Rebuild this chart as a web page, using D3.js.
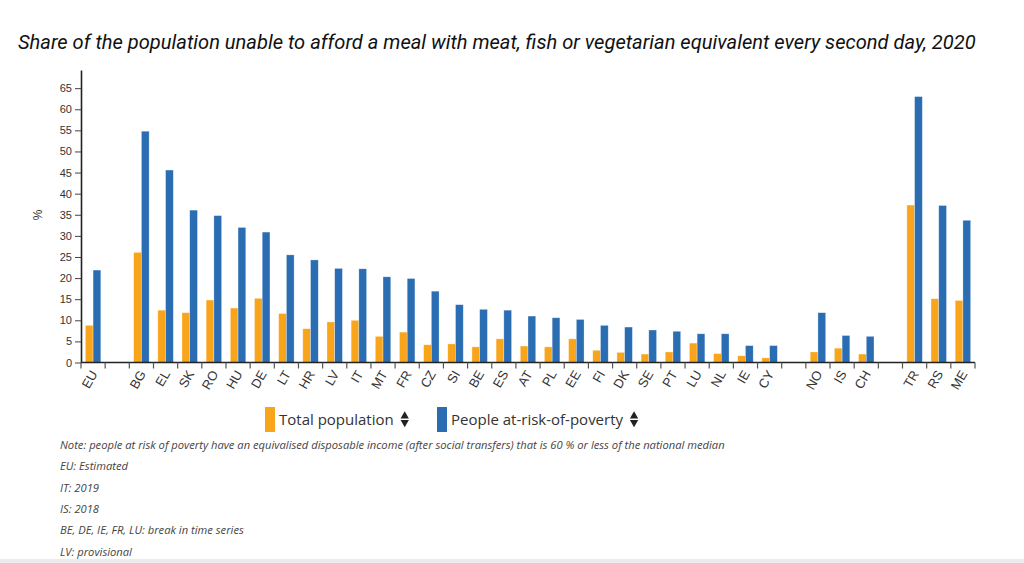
<!DOCTYPE html>
<html>
<head>
<meta charset="utf-8">
<script src="https://cdn.jsdelivr.net/npm/d3@7"></script>
<style>
  body { margin: 0; background: #fff; }
  svg { display: block; }
</style>
</head>
<body>
<script>
// categories, "" slots are the gaps between country groups
var countries = ["EU", "", "BG", "EL", "SK", "RO", "HU", "DE", "LT", "HR", "LV", "IT", "MT", "FR",
    "CZ", "SI", "BE", "ES", "AT", "PL", "EE", "FI", "DK", "SE", "PT", "LU", "NL", "IE", "CY",
    "", "NO", "IS", "CH", "", "TR", "RS", "ME"];

var totalPop = [8.8, null, 26.1, 12.4, 11.8, 14.8, 12.9, 15.2, 11.6, 8.0, 9.6, 10.0, 6.2, 7.2,
    4.2, 4.4, 3.7, 5.6, 3.9, 3.7, 5.6, 2.9, 2.4, 2.0, 2.5, 4.6, 2.1, 1.6, 1.1,
    null, 2.5, 3.4, 2.0, null, 37.3, 15.1, 14.7];

var atRisk = [21.9, null, 54.8, 45.6, 36.1, 34.8, 32.0, 30.9, 25.5, 24.3, 22.3, 22.2, 20.3, 19.9,
    16.9, 13.7, 12.6, 12.4, 11.0, 10.6, 10.2, 8.8, 8.4, 7.7, 7.4, 6.8, 6.8, 4.0, 4.0,
    null, 11.8, 6.4, 6.2, null, 63.0, 37.2, 33.7];

var yTicks = [0, 5, 10, 15, 20, 25, 30, 35, 40, 45, 50, 55, 60, 65];

var seriesNames = ["Total population", "People at-risk-of-poverty"];
var seriesColors = ["#f9a51c", "#2a6db3"];

var notes = [
    "Note: people at risk of poverty have an equivalised disposable income (after social transfers) that is 60 % or less of the national median",
    "EU: Estimated",
    "IT: 2019",
    "IS: 2018",
    "BE, DE, IE, FR, LU: break in time series",
    "LV: provisional"
];

var width = 1024, height = 563;

var svg = d3.select("body")
    .append("svg")
    .attr("width", width)
    .attr("height", height);

// title
svg.append("text")
    .attr("x", 18)
    .attr("y", 49)
    .style("font-family", "Roboto, sans-serif")
    .style("font-style", "italic")
    .style("font-size", "20.1px")
    .style("fill", "#111")
    .text("Share of the population unable to afford a meal with meat, fish or vegetarian equivalent every second day, 2020");

var keys = countries.map(function (c, i) { return c === "" ? "gap" + i : c; });

var x = d3.scaleBand()
    .domain(keys)
    .range([81, 975])
    .padding(0);

var y = d3.scaleLinear()
    .domain([0, d3.max(atRisk) * 1.1])
    .range([362.5, 70]);

var data = keys.map(function (k, i) {
    return { key: k, label: countries[i], values: [totalPop[i], atRisk[i]] };
});

var barW = x.bandwidth() * 0.32;

var groups = svg.selectAll(".grp")
    .data(data)
    .enter()
    .append("g")
    .attr("class", "grp")
    .attr("transform", function (d) {
        return "translate(" + (x(d.key) + x.bandwidth() / 2 - barW) + ",0)";
    });

groups.selectAll("rect")
    .data(function (d) {
        return d.values.map(function (v, j) { return { v: v, j: j }; })
            .filter(function (e) { return e.v != null; });
    })
    .enter()
    .append("rect")
    .attr("x", function (e) { return e.j * barW; })
    .attr("y", function (e) { return y(e.v); })
    .attr("width", barW)
    .attr("height", function (e) { return y(0) - y(e.v); })
    .attr("fill", function (e) { return seriesColors[e.j]; })
    .attr("stroke", "rgba(255,255,255,0.5)")
    .attr("stroke-width", 0.6);

// y axis
var yAxis = svg.append("g")
    .attr("transform", "translate(81,0)")
    .call(d3.axisLeft(y).tickValues(yTicks).tickSize(6).tickSizeOuter(0));
yAxis.select(".domain").attr("stroke", "#222").attr("stroke-width", 1.6);
yAxis.selectAll(".tick line").attr("stroke", "#444");
yAxis.selectAll(".tick text")
    .style("font-family", "'Liberation Sans', Arial, sans-serif")
    .style("font-size", "11px")
    .style("fill", "#333");

svg.append("text")
    .attr("transform", "translate(42,215) rotate(-90)")
    .attr("text-anchor", "middle")
    .style("font-family", "'Liberation Sans', Arial, sans-serif")
    .style("font-size", "12px")
    .style("fill", "#333")
    .text("%");

// x axis: line, ticks on band edges, rotated labels
var xAxis = svg.append("g").attr("class", "xaxis");
xAxis.append("line")
    .attr("x1", x.range()[0]).attr("x2", x.range()[1])
    .attr("y1", y(0)).attr("y2", y(0))
    .attr("stroke", "#222").attr("stroke-width", 1.6);

var edges = keys.map(function (k) { return x(k); }).concat([x.range()[1]]);
xAxis.selectAll(".edge")
    .data(edges)
    .enter()
    .append("line")
    .attr("x1", function (d) { return d; })
    .attr("x2", function (d) { return d; })
    .attr("y1", y(0))
    .attr("y2", y(0) + 6)
    .attr("stroke", "#555")
    .attr("stroke-width", 1.2);

xAxis.selectAll(".lbl")
    .data(data.filter(function (d) { return d.label !== ""; }))
    .enter()
    .append("text")
    .attr("text-anchor", "end")
    .attr("transform", function (d) {
        return "translate(" + (x(d.key) + x.bandwidth() / 2 + 1) + "," + (y(0) + 9) + ") rotate(-60)";
    })
    .attr("dy", "0.35em")
    .style("font-family", "'Liberation Sans', Arial, sans-serif")
    .style("font-size", "13px")
    .style("fill", "#333")
    .text(function (d) { return d.label; });

// legend
var legendX = [265, 437];
var legend = svg.selectAll(".legend")
    .data(seriesNames)
    .enter()
    .append("g")
    .attr("class", "legend")
    .attr("transform", function (d, i) { return "translate(" + legendX[i] + ",407)"; });

legend.append("rect")
    .attr("width", 10)
    .attr("height", 25)
    .attr("fill", function (d, i) { return seriesColors[i]; });

legend.append("text")
    .attr("x", 14)
    .attr("y", 18)
    .style("font-family", "'Open Sans', sans-serif")
    .style("font-size", "15px")
    .style("fill", "#333")
    .text(function (d) { return d; });

legend.each(function () {
    var g = d3.select(this);
    var w = g.select("text").node().getComputedTextLength();
    var cx = 14 + w + 11;
    g.append("path")
        .attr("d", d3.symbol(d3.symbolTriangle, 30)())
        .attr("transform", "translate(" + cx + ",9)")
        .attr("fill", "#222");
    g.append("path")
        .attr("d", d3.symbol(d3.symbolTriangle, 30)())
        .attr("transform", "translate(" + cx + ",15.5) rotate(180)")
        .attr("fill", "#222");
});

// notes
svg.selectAll(".note")
    .data(notes)
    .enter()
    .append("text")
    .attr("x", 60)
    .attr("y", function (d, i) { return 449 + i * 21.3; })
    .style("font-family", "'Open Sans', sans-serif")
    .style("font-style", "italic")
    .style("font-size", "11.2px")
    .style("fill", "#444")
    .text(function (d) { return d; });

// bottom band
svg.append("rect")
    .attr("x", 0).attr("y", 559)
    .attr("width", width).attr("height", 4)
    .attr("fill", "#ececec");
</script>
</body>
</html>
